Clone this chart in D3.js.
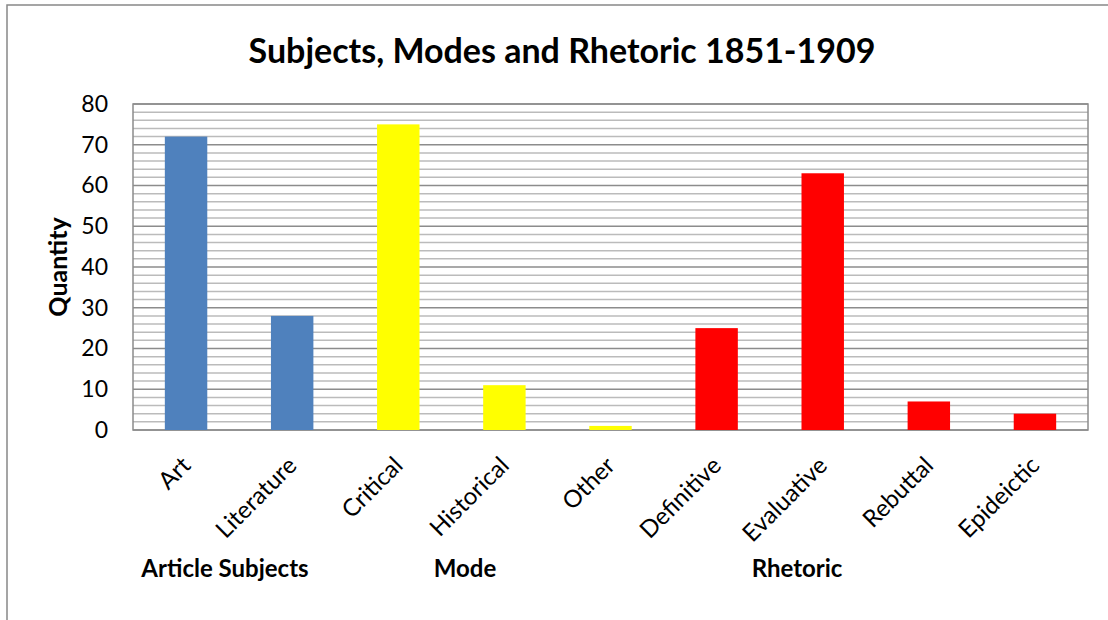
<!DOCTYPE html>
<html>
<head>
<meta charset="utf-8">
<script src="https://cdn.jsdelivr.net/npm/d3@7"></script>
<style>
  body { margin: 0; background: #fff; }
  text { font-family: Lato, "Open Sans", sans-serif; fill: #000; }
</style>
</head>
<body>
<svg id="drawing_region"></svg>
<script>
// chart data
const categories = ['Art', 'Literature', 'Critical', 'Historical', 'Other',
                    'Definitive', 'Evaluative', 'Rebuttal', 'Epideictic'];
const values = [72, 28, 75, 11, 1, 25, 63, 7, 4];
const groupOf = ['subject', 'subject', 'mode', 'mode', 'mode',
                 'rhetoric', 'rhetoric', 'rhetoric', 'rhetoric'];
const groupColors = { subject: '#4F81BD', mode: '#FFFF00', rhetoric: '#FF0000' };
const yTicks = [0, 10, 20, 30, 40, 50, 60, 70, 80];
const groupLabels = [
    { text: 'Article Subjects', x: 225 },
    { text: 'Mode', x: 465 },
    { text: 'Rhetoric', x: 797 }
];

const config = {
    width: 1108,
    height: 620,
    margin: { top: 104, right: 20, bottom: 190, left: 133 },
    title: 'Subjects, Modes and Rhetoric 1851-1909',
    ylabel: 'Quantity'
};

const data = categories.map((c, i) => ({ name: c, value: values[i], group: groupOf[i] }));

const svg = d3.select('#drawing_region')
    .attr('width', config.width)
    .attr('height', config.height);

// outer chart border (only top/left visible)
svg.append('rect')
    .attr('x', 7).attr('y', 5)
    .attr('width', config.width).attr('height', config.height)
    .attr('fill', 'none')
    .attr('stroke', '#888')
    .attr('stroke-width', 1.5);

const inner_width = 1088 - config.margin.left;
const inner_height = 430 - config.margin.top;

const chart = svg.append('g')
    .attr('transform', `translate(${config.margin.left}, ${config.margin.top})`);

const xscale = d3.scaleBand()
    .domain(categories)
    .range([0, inner_width])
    .paddingInner(0.6)
    .paddingOuter(0.3);

const yscale = d3.scaleLinear()
    .domain([0, 80])
    .range([inner_height, 0]);

// minor gridlines every 2
chart.append('g')
    .selectAll('line')
    .data(d3.range(2, 80, 2).filter(v => v % 10 !== 0))
    .join('line')
    .attr('x1', 0).attr('x2', inner_width)
    .attr('y1', d => yscale(d)).attr('y2', d => yscale(d))
    .attr('stroke', '#bbb')
    .attr('stroke-width', 1.5);

// major gridlines
chart.append('g')
    .selectAll('line')
    .data(yTicks)
    .join('line')
    .attr('x1', 0).attr('x2', inner_width)
    .attr('y1', d => yscale(d)).attr('y2', d => yscale(d))
    .attr('stroke', '#8c8c8c')
    .attr('stroke-width', 1.5);

// plot frame
chart.append('rect')
    .attr('x', 0).attr('y', 0)
    .attr('width', inner_width).attr('height', inner_height)
    .attr('fill', 'none')
    .attr('stroke', '#8c8c8c')
    .attr('stroke-width', 1.5);

// bars
chart.selectAll('.bar')
    .data(data)
    .join('rect')
    .attr('class', 'bar')
    .attr('x', d => xscale(d.name))
    .attr('y', d => yscale(d.value))
    .attr('width', xscale.bandwidth())
    .attr('height', d => inner_height - yscale(d.value))
    .attr('fill', d => groupColors[d.group]);

// y axis
const yaxis = d3.axisLeft(yscale).tickValues(yTicks).tickSize(0).tickPadding(25);
const yaxis_group = chart.append('g').call(yaxis);
yaxis_group.select('.domain').remove();
yaxis_group.selectAll('text')
    .attr('font-size', '23px')
    .style('font-family', 'Lato, sans-serif');

// x axis labels, rotated
const xaxis = d3.axisBottom(xscale).tickSize(0).tickPadding(0);
const xaxis_group = chart.append('g')
    .attr('transform', `translate(0, ${inner_height})`)
    .call(xaxis);
xaxis_group.select('.domain').remove();
xaxis_group.selectAll('text')
    .attr('font-size', '24px')
    .style('font-family', 'Lato, sans-serif')
    .attr('text-anchor', 'end')
    .attr('dy', 0)
    .attr('y', 0)
    .attr('transform', 'translate(6, 37) rotate(-45)');

// title
svg.append('text')
    .attr('x', 562)
    .attr('y', 63)
    .attr('text-anchor', 'middle')
    .attr('font-size', '34px')
    .attr('font-weight', 'bold')
    .text(config.title);

// y label
svg.append('text')
    .attr('transform', `translate(67, ${config.margin.top + inner_height / 2}) rotate(-90)`)
    .attr('text-anchor', 'middle')
    .attr('font-size', '25px')
    .attr('font-weight', 'bold')
    .text(config.ylabel);

// group labels
svg.append('g')
    .selectAll('text')
    .data(groupLabels)
    .join('text')
    .attr('x', d => d.x)
    .attr('y', 577)
    .attr('text-anchor', 'middle')
    .attr('font-size', '24px')
    .attr('font-weight', 'bold')
    .text(d => d.text);
</script>
</body>
</html>
